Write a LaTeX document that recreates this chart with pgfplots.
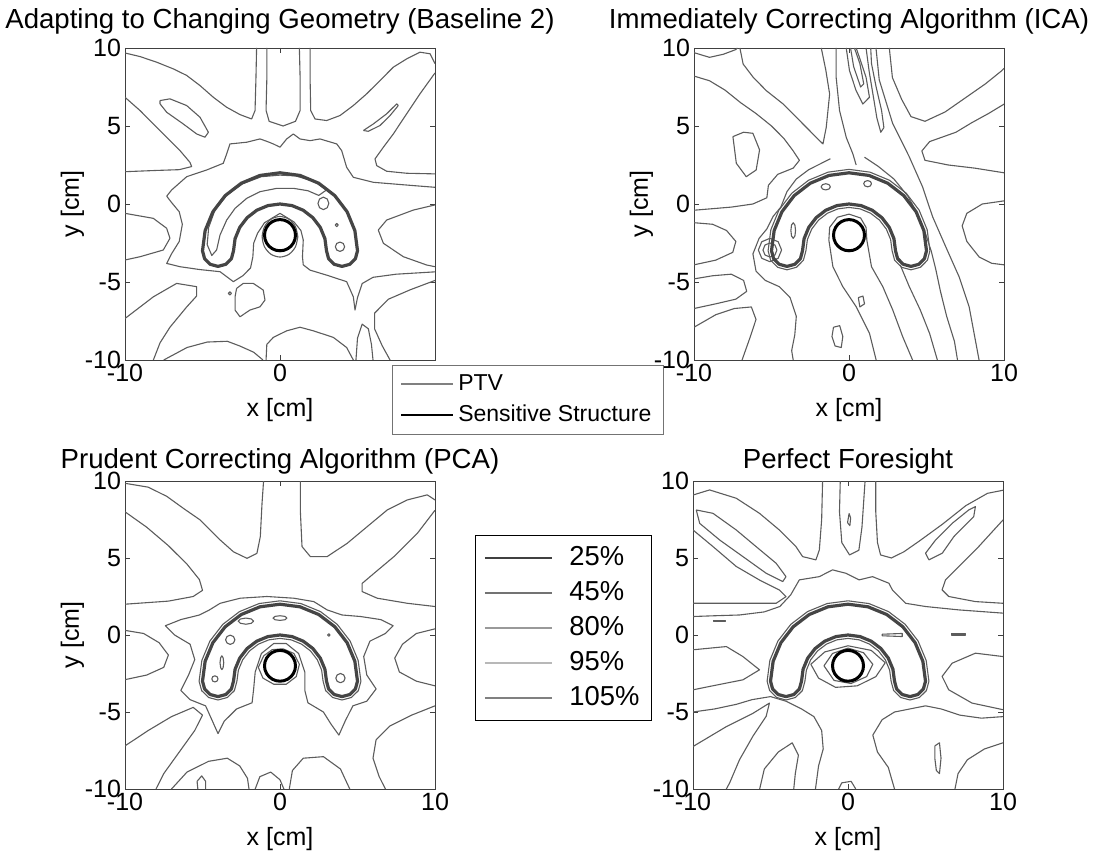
\documentclass[border=0pt]{standalone}
\usepackage{pgfplots}
\pgfplotsset{compat=1.18}
\usepackage{pgfplotstable}
\usepackage{fontspec}
\setmainfont{Liberation Sans}
\definecolor{cont}{rgb}{0.36,0.36,0.36}
\definecolor{ptvc}{rgb}{0.27,0.27,0.27}
\pgfplotsset{
 cl/.style={forget plot, draw=cont, line width=0.55pt, mark=none, line join=round},
 ptv/.style={forget plot, draw=ptvc, line width=1.6pt, mark=none, line join=round},
 ss/.style={forget plot, draw=black, line width=1.5pt, mark=none, line join=round},
 panel/.style={
  scale only axis, width=155pt, anchor=south west,
  xmin=-10, xmax=10, ymin=-10, ymax=10,
  xtick={-10,0,10}, xticklabels={-10,0,10},
  ytick={-10,-5,0,5,10}, yticklabels={-10,-5,0,5,10},
  tick align=inside, major tick length=2.5pt,
  tick style={black!75, line width=0.4pt},
  axis line style={black!75, line width=0.4pt},
  tick label style={font=\fontsize{12.5}{13}\selectfont},
  xticklabel style={yshift=1.5pt},
  yticklabel style={xshift=1.5pt},
  xlabel={x [cm]}, ylabel={y [cm]},
  label style={font=\fontsize{12.5}{13}\selectfont},
  xlabel style={yshift=-1.5pt},
  ylabel style={yshift=-6.5pt},
  title style={font=\fontsize{13.8}{15}\selectfont},
  clip=true,
 }
}
\pgfplotstableread{
x y
5 -3
4.830 -1.706
4.330 -0.500
3.536 0.536
2.500 1.330
1.294 1.830
0 2
-1.294 1.830
-2.500 1.330
-3.536 0.536
-4.330 -0.500
-4.830 -1.706
-5 -3
-4.866 -3.5
-4.5 -3.866
-4 -4
-3.5 -3.866
-3.134 -3.5
-3 -3
-2.898 -2.224
-2.598 -1.5
-2.121 -0.879
-1.5 -0.402
-0.776 -0.102
0 0
0.776 -0.102
1.5 -0.402
2.121 -0.879
2.598 -1.5
2.898 -2.224
3 -3
3.134 -3.5
3.5 -3.866
4 -4
4.5 -3.866
4.866 -3.5
5 -3
4.830 -1.706
}\ptvtab
\pgfplotstableread{
x y
1 -2
0.966 -1.741
0.866 -1.5
0.707 -1.293
0.5 -1.134
0.259 -1.034
0 -1
-0.259 -1.034
-0.5 -1.134
-0.707 -1.293
-0.866 -1.5
-0.966 -1.741
-1 -2
-0.966 -2.259
-0.866 -2.5
-0.707 -2.707
-0.5 -2.866
-0.259 -2.966
0 -3
0.259 -2.966
0.5 -2.866
0.707 -2.707
0.866 -2.5
0.966 -2.259
1 -2
0.966 -1.741
}\sstab
\pgfplotstableread{
x y
5.22 -3
5.042 -1.649
4.521 -0.39
3.691 0.691
2.61 1.521
1.351 2.042
0 2.22
-1.351 2.042
-2.61 1.521
-3.691 0.691
-4.521 -0.39
-5.042 -1.649
-5.22 -3
-5.057 -3.61
-4.61 -4.057
-4 -4.22
-3.39 -4.057
-2.943 -3.61
-2.78 -3
-2.685 -2.28
-2.408 -1.61
-1.966 -1.034
-1.39 -0.592
-0.72 -0.315
0 -0.22
0.72 -0.315
1.39 -0.592
1.966 -1.034
2.408 -1.61
2.685 -2.28
2.78 -3
2.943 -3.61
3.39 -4.057
4 -4.22
4.61 -4.057
5.057 -3.61
5.22 -3
}\hugtab
\begin{document}
\begin{tikzpicture}
\useasboundingbox (0,0) rectangle (547.5pt,428pt);
% ---------------- Panel 1 ----------------
\begin{axis}[panel, at={(62.5pt,248pt)}, height=156pt,
  xticklabels={-10,0,{}},
  title={Adapting to Changing Geometry (Baseline 2)},
  title style={yshift=-2.5pt},
  legend style={at={(0.861,-0.016)}, anchor=north west, draw=black!55, fill=white,
    font=\fontsize{11.5}{13}\selectfont, inner xsep=4pt, inner ysep=2pt, row sep=0.5pt,
    nodes={text height=8.5pt, text depth=2.5pt, inner sep=2pt}},
  legend cell align=left,
  legend image code/.code={\draw (0pt,0pt) -- (26pt,0pt);}]
\addplot[cl] coordinates {(-10,9.68) (-9.03,9.45) (-7.96,9.09) (-6.88,8.66) (-6.02,8.24) (-5.16,7.59) (-4.3,6.84) (-3.44,6.2) (-2.58,5.73) (-1.83,5.45) (-1.61,5.99) (-1.55,8.13) (-1.51,10)};
\addplot[cl] coordinates {(1.94,10) (1.94,8.13) (1.98,5.99) (2.26,5.45) (3.01,5.35) (3.87,5.67) (4.73,6.31) (5.59,7.06) (6.45,7.91) (7.31,8.77) (8.17,9.3) (9.03,9.73) (9.68,9.63) (10,9)};
\addplot[cl] coordinates {(10,8.4) (9.03,7.06) (8.17,5.78) (7.31,4.49) (6.67,3.64) (6.13,2.89) (6.24,2.46) (6.88,2.1) (8.17,1.97) (10,1.93)};
\addplot[cl] coordinates {(-10,6.84) (-9.03,5.99) (-8.17,5.13) (-7.31,4.28) (-6.45,3.42) (-5.81,2.67) (-5.7,2.4) (-6.5,2.2) (-8,2.15) (-10,2.07)};
\addplot[cl] coordinates {(10,-0.06) (8.6,-0.39) (6.88,-1.03) (6.34,-1.67) (6.67,-2.52) (7.96,-3.38) (9.46,-3.91) (10,-4.02)};
\addplot[cl] coordinates {(-10,-0.6) (-8.17,-0.92) (-7.31,-1.56) (-7.1,-2.2) (-7.53,-2.95) (-9.03,-3.38) (-10,-3.59)};
\addplot[cl] coordinates {(-10,-7.34) (-8.17,-5.95) (-6.67,-5.09) (-5.38,-5.3) (-5.38,-5.9) (-6.02,-6.6) (-7.1,-7.9) (-7.74,-8.9) (-8.17,-10)};
\addplot[cl] coordinates {(-7.5,-10) (-6,-9.2) (-4.7,-8.85) (-3.4,-8.8) (-2.6,-9.1) (-1.7,-9.5) (-1.1,-10)};
\addplot[cl] coordinates {(-0.9,-10) (-0.85,-9) (-0.43,-8.55) (0.43,-8.13) (1.29,-7.9) (2.15,-8.13) (3.44,-8.55) (4.3,-9.2) (4.73,-10)};
\addplot[cl] coordinates {(10,-4.9) (8.4,-5.5) (7,-6.1) (6.1,-7) (6.1,-8) (6.6,-9.1) (7.1,-10)};
\addplot[cl] coordinates {(4.9,-10) (5,-8.6) (5.3,-7.7) (5.7,-8) (5.9,-9) (6,-10)};
\addplot[cl] coordinates {(-0.85,10) (-0.85,8) (-0.9,6) (-0.7,5.3) (0.2,5) (1,5.3) (1.3,6) (1.3,8) (1.25,10)};
\addplot[cl] coordinates {(-7.74,6.63) (-7.1,6.74) (-6.02,6.31) (-5.16,5.56) (-4.62,4.6) (-4.84,4.28) (-5.38,4.49) (-6.24,5.13) (-7.31,5.88) (-7.74,6.42) (-7.74,6.63)};
\addplot[cl] coordinates {(5.38,4.71) (6.02,5.13) (6.88,5.78) (7.53,6.42) (7.63,6.31) (7.1,5.67) (6.45,5.03) (5.7,4.66) (5.38,4.71)};
\addplot[cl] coordinates {(10,1.07) (8.6,1.18) (6.02,1.39) (4.73,1.71) (4.3,2.35) (3.98,3.42) (3.66,3.85) (2.58,4.17) (1.94,4.06) (1.29,4.17) (0.86,4.49) (0.43,4.17) (0,3.64) (-0.43,3.85) (-0.86,4.02) (-1.29,4.17) (-2.15,3.96) (-3.23,3.85) (-3.44,3.21) (-3.66,2.61) (-4.73,2.18) (-6.02,1.75) (-6.99,0.9) (-7.31,0.5) (-7,0.1) (-6.5,-0.5) (-6.3,-1.3) (-6.5,-2.4) (-7,-3.2) (-7.31,-3.81) (-6.45,-4.02) (-5.2,-4.2) (-3.87,-4.34) (-3.01,-4.98) (-2.4,-4.6) (-1.9,-4.1) (-1.75,-3.38) (-1.7,-2.52) (-1.45,-1.88) (-1,-1.2) (0,-0.6) (0.9,-1.15) (1.35,-1.7) (1.5,-2.31) (1.45,-3.38) (1.5,-3.9) (1.94,-4.24) (3.01,-4.56) (4.3,-4.98) (4.73,-5.95) (4.84,-6.8) (5,-6) (5.3,-5.1) (6,-4.7) (7.5,-4.5) (10,-4.35)};
\addplot[cl] coordinates {(-2.8,-5.41) (-2.37,-5.09) (-1.72,-5.09) (-1.08,-5.52) (-0.97,-6.16) (-1.29,-6.59) (-1.94,-6.8) (-2.58,-7.23) (-2.9,-6.8) (-2.9,-5.95) (-2.8,-5.41)};
\addplot[cl] coordinates {(-3.13,-5.73) (-3.23,-5.63) (-3.33,-5.73) (-3.23,-5.83) (-3.13,-5.73)};
\addplot[cl] coordinates {(3.15,0.04) (3.05,0.32) (2.8,0.44) (2.55,0.32) (2.45,0.04) (2.55,-0.24) (2.8,-0.36) (3.05,-0.24) (3.15,0.04)};
\addplot[cl] coordinates {(3.76,-1.35) (3.66,-1.25) (3.56,-1.35) (3.66,-1.45) (3.76,-1.35)};
\addplot[cl] coordinates {(4.17,-2.74) (4.08,-2.53) (3.87,-2.44) (3.66,-2.53) (3.57,-2.74) (3.66,-2.95) (3.87,-3.04) (4.08,-2.95) (4.17,-2.74)};
\addplot[cl] coordinates {(-4.09,-2.95) (-3.87,-1.99) (-3.44,-1.03) (-2.9,-0.28) (-2.15,0.36) (-1.29,0.79) (-0.22,1) (0.9,1) (1.8,0.85) (2.5,0.55) (3,0.9) (2.2,1.45) (1,1.8) (0,1.85) (-1.2,1.75) (-2.4,1.3) (-3.4,0.6) (-4.2,-0.4) (-4.6,-1.5) (-4.7,-2.6) (-4.4,-3.3) (-4.09,-2.95)};
\addplot[cl, smooth] coordinates {(1.15,-2.1) (0.996,-1.45) (0.575,-0.974) (0,-0.8) (-0.575,-0.974) (-0.996,-1.45) (-1.15,-2.1) (-0.996,-2.75) (-0.575,-3.226) (0,-3.4) (0.575,-3.226) (0.996,-2.75) (1.15,-2.1)};
\addplot[ptv] table {\ptvtab};
\addplot[ss] table {\sstab};
\addlegendimage{draw=black!50, line width=1pt}
\addlegendentry{PTV}
\addlegendimage{draw=black, line width=1pt}
\addlegendentry{Sensitive Structure}
\end{axis}
% ---------------- Panel 2 ----------------
\begin{axis}[panel, at={(347pt,248pt)}, height=156pt,
  title={Immediately Correcting Algorithm (ICA)},
  title style={yshift=-2.5pt}]
\addplot[cl] coordinates {(-10,9.7) (-9,9.4) (-8.1,9.6) (-7.3,9.9) (-7.2,10)};
\addplot[cl] coordinates {(-7.04,10) (-6.83,8.97) (-6.18,8.12) (-5.33,7.26) (-4.25,6.41) (-3.4,5.56) (-2.54,4.7) (-1.9,4.06) (-1.68,3.85) (-1.47,4.91) (-1.25,7.05) (-1.5,8.6) (-1.79,10)};
\addplot[cl] coordinates {(-10,8.2) (-9,7.9) (-8,7.3) (-7,6.5) (-6,5.8) (-5,5) (-4.2,4.2) (-3.6,3.4) (-3.2,2.8) (-3.6,2.3) (-4.6,1.9) (-5.2,1.2) (-5.3,0.4) (-6.2,0) (-7.6,-0.2) (-8.8,-0.3) (-10,-0.4)};
\addplot[cl] coordinates {(-7.49,4.32) (-6.8,4.6) (-6.2,4.53) (-5.77,3.47) (-5.99,2.18) (-6.63,1.75) (-7.27,2.61) (-7.49,4.32)};
\addplot[cl] coordinates {(-10,-1.2) (-8.8,-1.3) (-7.9,-1.7) (-7.3,-2.4) (-7.5,-3.1) (-8.6,-3.6) (-10,-3.9)};
\addplot[cl] coordinates {(-10,-4.8) (-8.8,-4.6) (-7.6,-4.5) (-6.8,-4.9) (-6.6,-5.6) (-7.3,-6.1) (-8.6,-6.4) (-10,-6.7)};
\addplot[cl] coordinates {(-10,-7.9) (-8.6,-7.1) (-7.4,-6.7) (-6.3,-6.6) (-6,-7.4) (-6.4,-8.6) (-6.9,-10)};
\addplot[cl] coordinates {(-1.2,2.9) (-2,2.5) (-2.6,2.2) (-3.4,1.6) (-4,0.8) (-4.4,-0.2) (-4.9,-0.8) (-5.3,-1.6) (-5.8,-2.2) (-6.2,-3.2) (-6,-4.3) (-5.4,-4.9) (-4.5,-5.3) (-3.8,-6) (-3.4,-7.2) (-3.5,-8.4) (-3.7,-9.4) (-3.6,-10)};
\addplot[cl] coordinates {(-4.65,-2.95) (-4.78,-2.63) (-5.1,-2.5) (-5.42,-2.63) (-5.55,-2.95) (-5.42,-3.27) (-5.1,-3.4) (-4.78,-3.27) (-4.65,-2.95)};
\addplot[cl] coordinates {(-4.35,-2.95) (-4.57,-2.42) (-5.1,-2.2) (-5.63,-2.42) (-5.85,-2.95) (-5.63,-3.48) (-5.1,-3.7) (-4.57,-3.48) (-4.35,-2.95)};
\addplot[cl] coordinates {(-0.83,10) (-0.83,8.12) (-0.61,5.98) (-0.18,4.27) (0.25,3.21) (0.46,2.5)};
\addplot[cl] coordinates {(-0.18,10) (0.03,8.55) (0.46,7.26) (0.89,6.41) (1.32,6.84) (1.1,8.12) (0.67,9.4) (0.46,10)};
\addplot[cl] coordinates {(0.1,10) (0.3,8.8) (0.75,7.5) (0.95,7.7) (0.7,9) (0.35,10)};
\addplot[cl] coordinates {(1.1,10) (1.3,8.5) (1.55,7) (1.8,5.5) (2.05,4.6) (2.25,4.9) (2.1,6) (1.75,7.5) (1.45,9) (1.4,10)};
\addplot[cl] coordinates {(1.74,10) (1.95,7.96) (2.81,5.18) (3.88,3.04) (4.74,1.11) (5.39,-0.81) (6.24,-2.74) (7.1,-4.66) (7.75,-6.59) (8.39,-10)};
\addplot[cl] coordinates {(1,3) (1.9,2.4) (2.9,1.6) (3.8,0.5) (4.4,-0.6) (4.9,-1.8) (5.3,-3) (5.6,-4.2) (5.9,-5.6) (6.3,-7.2) (6.8,-8.8) (7,-10)};
\addplot[cl] coordinates {(2.6,10) (2.8,8.1) (3.4,6.7) (4,5.6) (4.9,5.3) (6.2,5.9) (7.5,6.8) (8.8,7.7) (9.8,8.5) (10,8.7)};
\addplot[cl] coordinates {(10,6.4) (9,5.8) (7.9,5.2) (6.9,4.6) (5.2,4) (4.7,3.4) (4.9,2.8) (6.4,2.5) (8.1,2.3) (10,2)};
\addplot[cl] coordinates {(10,0.2) (8.6,0) (7.6,-0.6) (7.3,-1.4) (7.6,-2.4) (8.4,-3.4) (9.2,-3.8) (10,-3.9)};
\addplot[cl] coordinates {(1.75,-10) (1.32,-8.29) (0.46,-6.58) (-0.4,-5.3) (-1.04,-4.02) (-1.3,-2.31) (-1.25,-1.5) (-0.75,-0.85) (0,-0.65) (0.75,-0.9) (1.1,-1.5) (1.15,-2.31) (1.45,-4.02) (2.18,-5.3) (2.82,-6.79) (3.46,-8.5) (4.1,-10)};
\addplot[cl] coordinates {(3.3,-3.9) (3.89,-5.3) (4.6,-6.8) (5.2,-8.3) (5.7,-10)};
\addplot[cl] coordinates {(-1,-7.9) (-0.6,-7.8) (-0.4,-8.5) (-0.5,-9.2) (-0.9,-9.1) (-1.1,-8.5) (-1,-7.9)};
\addplot[cl] coordinates {(0.6,-6) (0.9,-5.9) (1,-6.4) (0.7,-6.6) (0.6,-6)};
\addplot[cl] coordinates {(-1.2,1.1) (-1.29,1.24) (-1.5,1.3) (-1.71,1.24) (-1.8,1.1) (-1.71,0.96) (-1.5,0.9) (-1.29,0.96) (-1.2,1.1)};
\addplot[cl] coordinates {(1.45,1.3) (1.38,1.44) (1.2,1.5) (1.02,1.44) (0.95,1.3) (1.02,1.16) (1.2,1.1) (1.38,1.16) (1.45,1.3)};
\addplot[cl] coordinates {(-3.45,-1.7) (-3.49,-1.35) (-3.6,-1.2) (-3.71,-1.35) (-3.75,-1.7) (-3.71,-2.05) (-3.6,-2.2) (-3.49,-2.05) (-3.45,-1.7)};
\addplot[cl] table {\hugtab};
\addplot[ptv] table {\ptvtab};
\addplot[ss] table {\sstab};
\end{axis}
% ---------------- Panel 3 ----------------
\begin{axis}[panel, at={(62.5pt,33.5pt)}, height=154pt,
  title={Prudent Correcting Algorithm (PCA)},
  title style={yshift=-6pt},
  legend style={at={(1.129,0.825)}, anchor=north west, draw=black, line width=0.7pt, fill=white,
    font=\fontsize{13.7}{15}\selectfont, inner xsep=4pt, inner ysep=3pt, row sep=1pt,
    nodes={text height=10pt, text depth=2.5pt, inner sep=2pt},
    /tikz/every odd column/.append style={column sep=6pt}},
  legend cell align=left,
  legend image code/.code={\draw (0pt,0pt) -- (33.5pt,0pt);}]
\addplot[cl] coordinates {(-10,9.85) (-8.5,9.6) (-7.3,9) (-6.2,8.2) (-5.15,7.47) (-3.86,6.17) (-3,5.4) (-2.13,4.98) (-1.49,5.3) (-1.27,6.39) (-1.16,8.55) (-1.06,10)};
\addplot[cl] coordinates {(1.31,10) (1.31,8.12) (1.42,5.74) (1.96,5.09) (3.04,5.09) (4.33,5.95) (5.63,7.04) (6.92,8.12) (8.21,8.77) (9.5,9.1) (10,8.77)};
\addplot[cl] coordinates {(10,8.1) (8.86,6.6) (7.35,5.09) (6.06,4) (5.3,3.35) (5.3,2.82) (6.27,2.39) (8.21,2.06) (10,1.85)};
\addplot[cl] coordinates {(-10,8) (-8.6,7) (-7.2,5.8) (-6,4.6) (-5.2,3.6) (-5,2.9) (-5.6,2.5) (-7.2,2.2) (-10,2)};
\addplot[cl] coordinates {(10,0.4) (8.8,0.1) (7.9,-0.6) (7.4,-1.5) (7.7,-2.4) (8.8,-3) (10,-3.3)};
\addplot[cl] coordinates {(-10,0.3) (-8.8,0.1) (-7.8,-0.5) (-7.2,-1.3) (-7.5,-2.1) (-8.6,-2.6) (-10,-2.9)};
\addplot[cl] coordinates {(-10,-7.2) (-8.5,-6.2) (-7,-5.3) (-5.6,-4.7) (-5,-5.2) (-5.5,-6.2) (-6.5,-7.6) (-7.5,-9) (-8,-10)};
\addplot[cl] coordinates {(-7,-10) (-6,-8.9) (-4.6,-8.2) (-3.4,-8) (-2.6,-8.5) (-2.1,-9.3) (-2,-10)};
\addplot[cl] coordinates {(-5.3,-10) (-5.35,-9.5) (-5.05,-9.15) (-4.8,-9.5) (-4.8,-10)};
\addplot[cl] coordinates {(-1.6,-10) (-1.3,-9.2) (-0.6,-8.9) (0,-9.4) (0.25,-10)};
\addplot[cl] coordinates {(0.6,-10) (0.8,-8.8) (1.5,-8) (2.8,-7.9) (3.9,-8.7) (4.5,-10)};
\addplot[cl] coordinates {(10,-4.6) (8.5,-5.2) (7.1,-5.9) (6.2,-6.8) (6,-8) (6.4,-9.2) (6.8,-10)};
\addplot[cl] coordinates {(-3.86,2.06) (-2.56,2.39) (-0.84,2.5) (0.88,2.39) (2.18,2.17) (3.04,1.63) (4,1.3) (5.2,1.2) (6.5,1) (7.3,0.6) (6.8,0.1) (5.8,-0.4) (5.4,-1.4) (5.6,-2.6) (6.2,-3.5) (5.6,-4.3) (4.7,-4.6) (4.2,-5.6) (3.8,-6.5) (3.3,-5.8) (2.8,-5) (1.8,-4.4) (1.6,-3.6) (1.6,-2.4) (1.2,-1.2) (0.4,-0.55) (-0.4,-0.55) (-1.2,-1.2) (-1.6,-2.4) (-1.7,-3.5) (-1.8,-4.4) (-2.8,-4.8) (-3.6,-5.6) (-4,-6.4) (-4.4,-5.5) (-4.8,-4.6) (-5.8,-4.2) (-6.4,-3.6) (-5.9,-2.6) (-5.5,-1.6) (-5.8,-0.6) (-6.8,0) (-7.4,0.6) (-6.4,1) (-5.2,1.3) (-4.6,1.6) (-3.86,2.06)};
\addplot[cl] coordinates {(-1.4,-2.1) (-1.05,-1.35) (-0.5,-0.95) (0.2,-0.9) (0.9,-1.2) (1.25,-1.9) (1.05,-2.7) (0.4,-3.2) (-0.4,-3.2) (-1.1,-2.8) (-1.4,-2.1)};
\addplot[cl] coordinates {(-2.91,-0.31) (-3,-0.1) (-3.21,-0.01) (-3.42,-0.1) (-3.51,-0.31) (-3.42,-0.52) (-3.21,-0.61) (-3,-0.52) (-2.91,-0.31)};
\addplot[cl] coordinates {(-1.7,0.9) (-1.85,1.04) (-2.2,1.1) (-2.55,1.04) (-2.7,0.9) (-2.55,0.76) (-2.2,0.7) (-1.85,0.76) (-1.7,0.9)};
\addplot[cl] coordinates {(0.45,1.1) (0.32,1.21) (0,1.25) (-0.32,1.21) (-0.45,1.1) (-0.32,0.99) (0,0.95) (0.32,0.99) (0.45,1.1)};
\addplot[cl] coordinates {(-3.63,-1.8) (-3.67,-1.48) (-3.75,-1.35) (-3.83,-1.48) (-3.87,-1.8) (-3.83,-2.12) (-3.75,-2.25) (-3.67,-2.12) (-3.63,-1.8)};
\addplot[cl] coordinates {(-4,-2.85) (-4.06,-2.71) (-4.2,-2.65) (-4.34,-2.71) (-4.4,-2.85) (-4.34,-2.99) (-4.2,-3.05) (-4.06,-2.99) (-4,-2.85)};
\addplot[cl] coordinates {(4.2,-2.8) (4.11,-2.59) (3.9,-2.5) (3.69,-2.59) (3.6,-2.8) (3.69,-3.01) (3.9,-3.1) (4.11,-3.01) (4.2,-2.8)};
\addplot[cl] coordinates {(3.23,0) (3.15,0.08) (3.07,0) (3.15,-0.08) (3.23,0)};
\addplot[cl] table {\hugtab};
\addplot[ptv] table {\ptvtab};
\addplot[ss] table {\sstab};
\addlegendimage{draw=black!75, line width=1.3pt}
\addlegendentry{25\%}
\addlegendimage{draw=black!55, line width=1.3pt}
\addlegendentry{45\%}
\addlegendimage{draw=black!40, line width=1.3pt}
\addlegendentry{80\%}
\addlegendimage{draw=black!28, line width=1.3pt}
\addlegendentry{95\%}
\addlegendimage{draw=black!50, line width=1.3pt}
\addlegendentry{105\%}
\end{axis}
% ---------------- Panel 4 ----------------
\begin{axis}[panel, at={(346.5pt,33.5pt)}, height=154pt,
  ylabel={},
  title={Perfect Foresight},
  title style={yshift=-6pt}]
\addplot[cl] coordinates {(-10,9.09) (-8.93,9.42) (-7.21,8.88) (-5.71,7.9) (-4.43,6.82) (-3.36,5.74) (-2.93,5.09) (-2.07,4.88) (-1.85,5.52) (-1.7,7.5) (-1.64,10)};
\addplot[cl] coordinates {(1.79,10) (1.79,8) (1.9,6) (2.1,5.2) (2.8,5) (3.6,5.4) (4.6,6.1) (6.1,7.2) (7.6,8.4) (9,9.2) (10,9.4)};
\addplot[cl] coordinates {(10,7.47) (8.43,5.74) (7.15,4.44) (6.29,3.58) (6.07,2.93) (6.5,2.5) (8.22,2.17) (10,2.06)};
\addplot[cl] coordinates {(-10,6.82) (-8.71,5.74) (-7.21,4.45) (-5.71,3.57) (-4.43,2.92) (-4,2.49) (-4.64,2.06) (-6.78,2.06) (-10,2.06)};
\addplot[cl] coordinates {(-9.79,8.12) (-8.71,7.9) (-7.21,6.82) (-5.93,5.74) (-4.64,4.66) (-4,3.79) (-4.21,3.47) (-5.28,4.01) (-6.78,5.09) (-8.28,6.17) (-9.57,7.25) (-9.79,8.12)};
\addplot[cl] coordinates {(-0.5,10) (-0.55,8) (-0.4,6) (0.1,5.2) (0.7,5.5) (0.9,7) (1.1,10)};
\addplot[cl] coordinates {(0.07,7.9) (0.17,7.6) (0.12,7.1) (-0.03,7.3) (0.07,7.9)};
\addplot[cl] coordinates {(5,5.31) (5.65,6.17) (6.72,7.25) (7.79,8.12) (8.22,8.34) (8.11,7.69) (6.83,6.39) (6.08,5.31) (5.22,4.88) (5,5.31)};
\addplot[cl] coordinates {(10,-1.4) (8.22,-1.18) (6.72,-1.83) (6.07,-2.69) (6.5,-3.56) (8,-4.42) (10,-4.85)};
\addplot[cl] coordinates {(-10,-0.96) (-7.85,-0.75) (-6.78,-1.4) (-5.71,-2.26) (-6.78,-2.91) (-8.93,-3.34) (-10,-3.56)};
\addplot[cl] coordinates {(-10,-7.24) (-7.85,-5.95) (-6.14,-5.09) (-5.07,-4.42) (-5.28,-5.28) (-6.14,-6.58) (-7,-8.1) (-7.64,-9.61) (-7.85,-10)};
\addplot[cl] coordinates {(-10,1.2) (-8.6,1.25) (-7,1.3) (-5.4,1.5) (-4.4,1.85) (-3.7,2.6) (-3.14,3.58) (-1.85,3.79) (-1,4.23) (-0.14,4.01) (0.72,3.58) (1.58,3.79) (2.64,3.36) (2.86,2.93) (3.72,2.06) (5,1.85) (7.15,1.63) (10,1.42)};
\addplot[cl] coordinates {(-10,-5) (-8.6,-4.8) (-7.2,-4.5) (-6.2,-4.2) (-5,-4) (-4,-4.3) (-3,-4.8) (-2.2,-5.3) (-1.7,-6.2) (-1.6,-7.4) (-1.9,-8.5) (-2.1,-10)};
\addplot[cl] coordinates {(10,-5.3) (8.6,-5.4) (7.2,-5.2) (6,-4.8) (5,-4.6) (4,-4.8) (3,-5) (2.2,-5.5) (1.6,-6.5) (1.9,-7.6) (2.6,-8.6) (3,-10)};
\addplot[cl] coordinates {(10,-7) (8.8,-7.4) (7.7,-8.1) (7.1,-9) (6.9,-10)};
\addplot[cl] coordinates {(5.6,-7.2) (5.9,-7) (6,-8) (5.9,-9) (5.7,-8.8) (5.6,-8) (5.6,-7.2)};
\addplot[cl] coordinates {(-5.7,-10) (-5.4,-8.7) (-4.5,-7.6) (-3.6,-7) (-3.2,-7.8) (-3.4,-9) (-3.5,-10)};
\addplot[cl] coordinates {(-0.6,-10) (-0.4,-9.6) (0.2,-9.5) (0.5,-10)};
\addplot[cl] coordinates {(-2.4,-1.9) (-1.5,-1.1) (0,-0.7) (1.5,-1) (2.4,-1.8) (1.8,-2.7) (0.6,-3.3) (-0.8,-3.4) (-1.9,-2.8) (-2.4,-1.9)};
\addplot[cl] coordinates {(-1.55,-2) (-1,-1.2) (0,-0.85) (1,-1.15) (1.6,-1.9) (1.2,-2.7) (0.2,-3.15) (-0.9,-2.95) (-1.55,-2)};
\addplot[cl] coordinates {(-8.7,0.95) (-7.9,0.95) (-7.9,0.85) (-8.7,0.85) (-8.7,0.95)};
\addplot[cl] coordinates {(2.2,0.05) (3.5,0.1) (3.5,-0.1) (2.2,-0.05) (2.2,0.05)};
\addplot[cl] coordinates {(6.7,0.1) (7.6,0.1) (7.6,0) (6.7,0) (6.7,0.1)};
\addplot[cl] table {\hugtab};
\addplot[ptv] table {\ptvtab};
\addplot[ss] table {\sstab};
\end{axis}
\end{tikzpicture}
\end{document}
